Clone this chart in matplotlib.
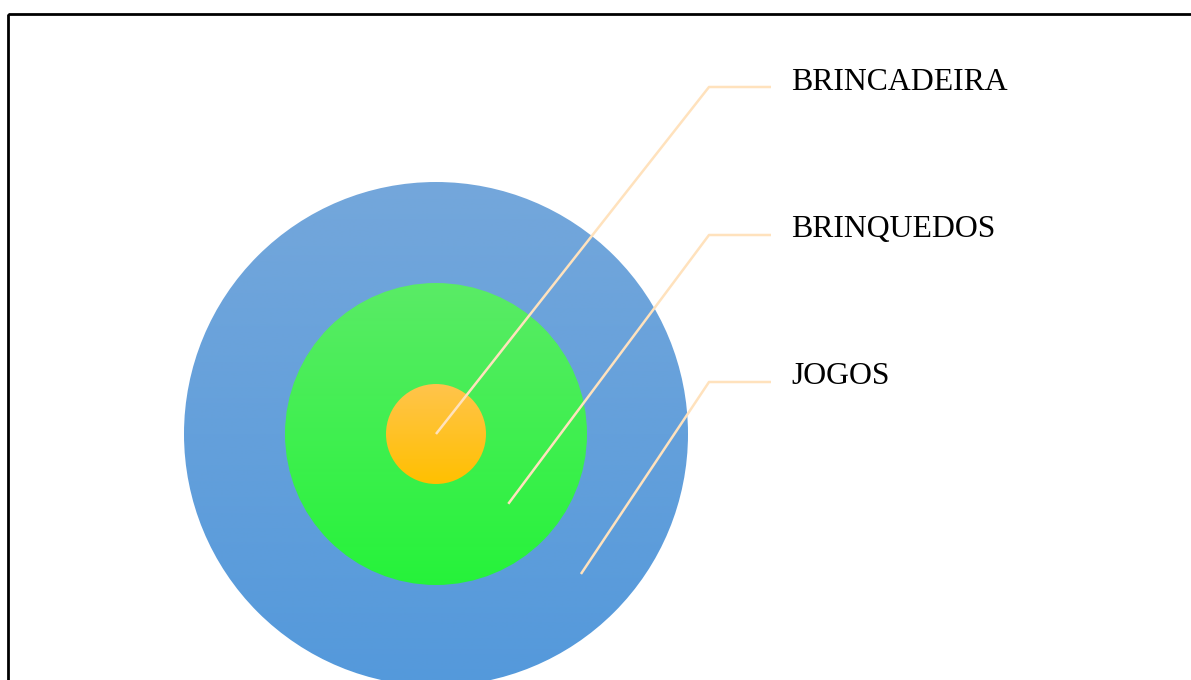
import numpy as np
import matplotlib.pyplot as plt
from matplotlib.patches import Circle, Rectangle
from matplotlib.colors import LinearSegmentedColormap

# data (outer to inner)
labels = ["JOGOS", "BRINQUEDOS", "BRINCADEIRA"]
radii = [252, 151, 50]
top_colors = ["#74A7DB", "#5AEB66", "#FFC44C"]
bottom_colors = ["#5499DB", "#26F33A", "#FFC000"]
label_y = [382, 235, 87]

cx, cy = 436, 434

fig = plt.figure(figsize=(11.91, 6.8), dpi=100)
ax = fig.add_axes([0, 0, 1, 1])
ax.set_xlim(0, 1191)
ax.set_ylim(680, 0)
ax.axis("off")

# frame
ax.add_patch(Rectangle((8, 14), 1300, 800, fill=False, ec="black", lw=2, zorder=1))

grad = np.linspace(0, 1, 256).reshape(-1, 1)
for i, r in enumerate(radii):
    cmap = LinearSegmentedColormap.from_list("g%d" % i, [top_colors[i], bottom_colors[i]])
    circ = Circle((cx, cy), r, fc="none", ec="none")
    ax.add_patch(circ)
    im = ax.imshow(grad, cmap=cmap, aspect="auto",
                   extent=(cx - r, cx + r, cy + r, cy - r), zorder=2 + i)
    im.set_clip_path(circ)

ax.set_xlim(0, 1191)
ax.set_ylim(680, 0)

# leader lines and labels
radii_in = radii[1:] + [0]
for i, lab in enumerate(labels):
    rmid = 0 if i == len(labels) - 1 else (radii[i] + radii_in[i]) / 2
    ang = np.deg2rad(44)
    sx, sy = cx + rmid * np.cos(ang), cy + rmid * np.sin(ang)
    ax.plot([sx, 709, 771], [sy, label_y[i], label_y[i]], color="#FFE2BD",
            lw=1.8, zorder=10, solid_capstyle="butt")
    ax.text(791, label_y[i] - 5, lab, fontsize=22.9, family="Liberation Serif",
            va="center", ha="left", color="black", zorder=11)

fig.savefig("out.png", dpi=100)
